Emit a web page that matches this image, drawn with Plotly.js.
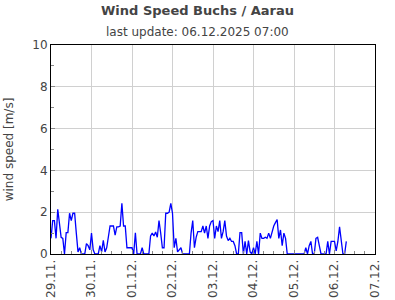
<!DOCTYPE html>
<html>
<head>
<meta charset="utf-8">
<script src="https://cdn.plot.ly/plotly-3.0.1.min.js"></script>
<style>html,body{margin:0;padding:0;background:#fff;}#chart{width:395px;height:300px;}</style>
</head>
<body>
<div id="chart"></div>
<script>
// Hourly wind speed values [m/s], starting 29.11.2025 00:00
const startTime = '2025-11-29T00:00:00Z';
const windSpeed = [
  0.75, 1.6, 1.6, 0.75, 2.14, 1.5, 0.8, 0.75, 0, 1.02,
  1.02, 1.95, 1.6, 1.95, 1.95, 1.0, 0.1, 0.3, 0, 0,
  0, 0.5, 0.4, 0.2, 1.0, 0.2, 0, 0, 0, 0.4,
  0.1, 0.65, 0.1, 0.3, 0.9, 1.34, 1.34, 1.34, 0.9, 1.3,
  1.3, 1.34, 2.42, 1.34, 1.34, 0.3, 0.3, 0.3, 0.3, 0,
  1.02, 0, 0, 0, 0.3, 0, 0, 0, 0, 0.86,
  1.0, 0.86, 1.05, 0.8, 1.6, 1.0, 0.3, 0.3, 1.95, 1.95,
  2.0, 2.42, 1.95, 0.3, 0.75, 0.1, 0.2, 0.3, 0, 0,
  0, 0, 0, 1.0, 1.6, 0.3, 0.8, 1.07, 1.07, 1.07,
  1.34, 1.0, 1.34, 0.75, 1.34, 1.55, 1.6, 0.75, 1.34, 1.07,
  1.6, 0.75, 1.07, 1.6, 0.86, 0.64, 0.75, 0.6, 0.6, 0.4,
  0, 0, 1.02, 1.02, 0, 0.6, 0, 0.64, 0.1, 0,
  0.3, 0, 0.6, 0, 1.0, 0.75, 0.75, 0.8, 0.75, 1.0,
  0.75, 1.07, 1.34, 1.5, 1.65, 0.75, 1.15, 0.4, 1.0, 0.75,
  0, 0, 0, 0, 0, 0, 0, 0, 0, 0,
  0, 0.3, 0, 0.4, 0.6, 0, 0, 0.75, 0.8, 0.4,
  0, 0, 0, 0, 0.6, 0, 0.6, 0.6, 0.6, 0.15,
  0.6, 1.3, 0.6, 0, 0, 0.6
];
const tickDays = ['2025-11-29','2025-11-30','2025-12-01','2025-12-02','2025-12-03','2025-12-04','2025-12-05','2025-12-06','2025-12-07'];
const tickLabels = ['29.11.','30.11.','01.12.','02.12.','03.12.','04.12.','05.12.','06.12.','07.12.'];

function pad(n){return (n<10?'0':'')+n;}
const t0 = Date.parse(startTime);
const times = windSpeed.map((v,i)=>{
  const d = new Date(t0 + i*3600000);
  return d.getUTCFullYear()+'-'+pad(d.getUTCMonth()+1)+'-'+pad(d.getUTCDate())+' '+pad(d.getUTCHours())+':00';
});

const font = 'DejaVu Sans, sans-serif';
const trace = {
  x: times, y: windSpeed, type: 'scatter', mode: 'lines',
  line: {color: '#0000ff', width: 1.3}, hoverinfo: 'skip'
};
const layout = {
  width: 395, height: 300,
  margin: {l: 51, r: 20, t: 45, b: 46},
  paper_bgcolor: '#fff', plot_bgcolor: '#fff',
  font: {family: font, size: 12, color: '#444'},
  showlegend: false,
  title: {text: '<b>Wind Speed Buchs / Aarau</b>', x: 0.5, xanchor: 'center', y: 0.982, yanchor: 'top', font: {family: font, size: 13, color: '#444'}},
  annotations: [{text: 'last update: 06.12.2025 07:00', xref: 'paper', yref: 'paper', x: 0.452, y: 1.0, xanchor: 'center', yanchor: 'bottom', showarrow: false, font: {family: font, size: 12, color: '#444'}, yshift: 4}],
  xaxis: {
    type: 'date', range: ['2025-11-29', '2025-12-07'],
    tickmode: 'array', tickvals: tickDays, ticktext: tickLabels,
    tickangle: -90, tickfont: {family: font, size: 12, color: '#444'},
    showgrid: true, gridcolor: '#d0d0d0', gridwidth: 1,
    showline: true, linecolor: '#000', linewidth: 1, mirror: true,
    ticks: 'inside', ticklen: 4, tickcolor: '#888',
    minor: {dtick: 6*3600000, tick0: '2025-11-29', ticks: 'inside', ticklen: 3, tickcolor: '#888', showgrid: false},
    zeroline: false, fixedrange: true
  },
  yaxis: {
    range: [0, 10], dtick: 2, tick0: 0,
    tickfont: {family: font, size: 12, color: '#444'},
    title: {text: 'wind speed [m/s]', font: {family: font, size: 12, color: '#444'}, standoff: 16},
    showgrid: true, gridcolor: '#d0d0d0', gridwidth: 1,
    showline: true, linecolor: '#000', linewidth: 1, mirror: true,
    ticks: 'inside', ticklen: 4, tickcolor: '#888',
    minor: {dtick: 1, ticks: 'inside', ticklen: 3, tickcolor: '#888', showgrid: false},
    zeroline: false, fixedrange: true
  }
};
Plotly.newPlot('chart', [trace], layout, {staticPlot: true, displayModeBar: false});
</script>
</body>
</html>
